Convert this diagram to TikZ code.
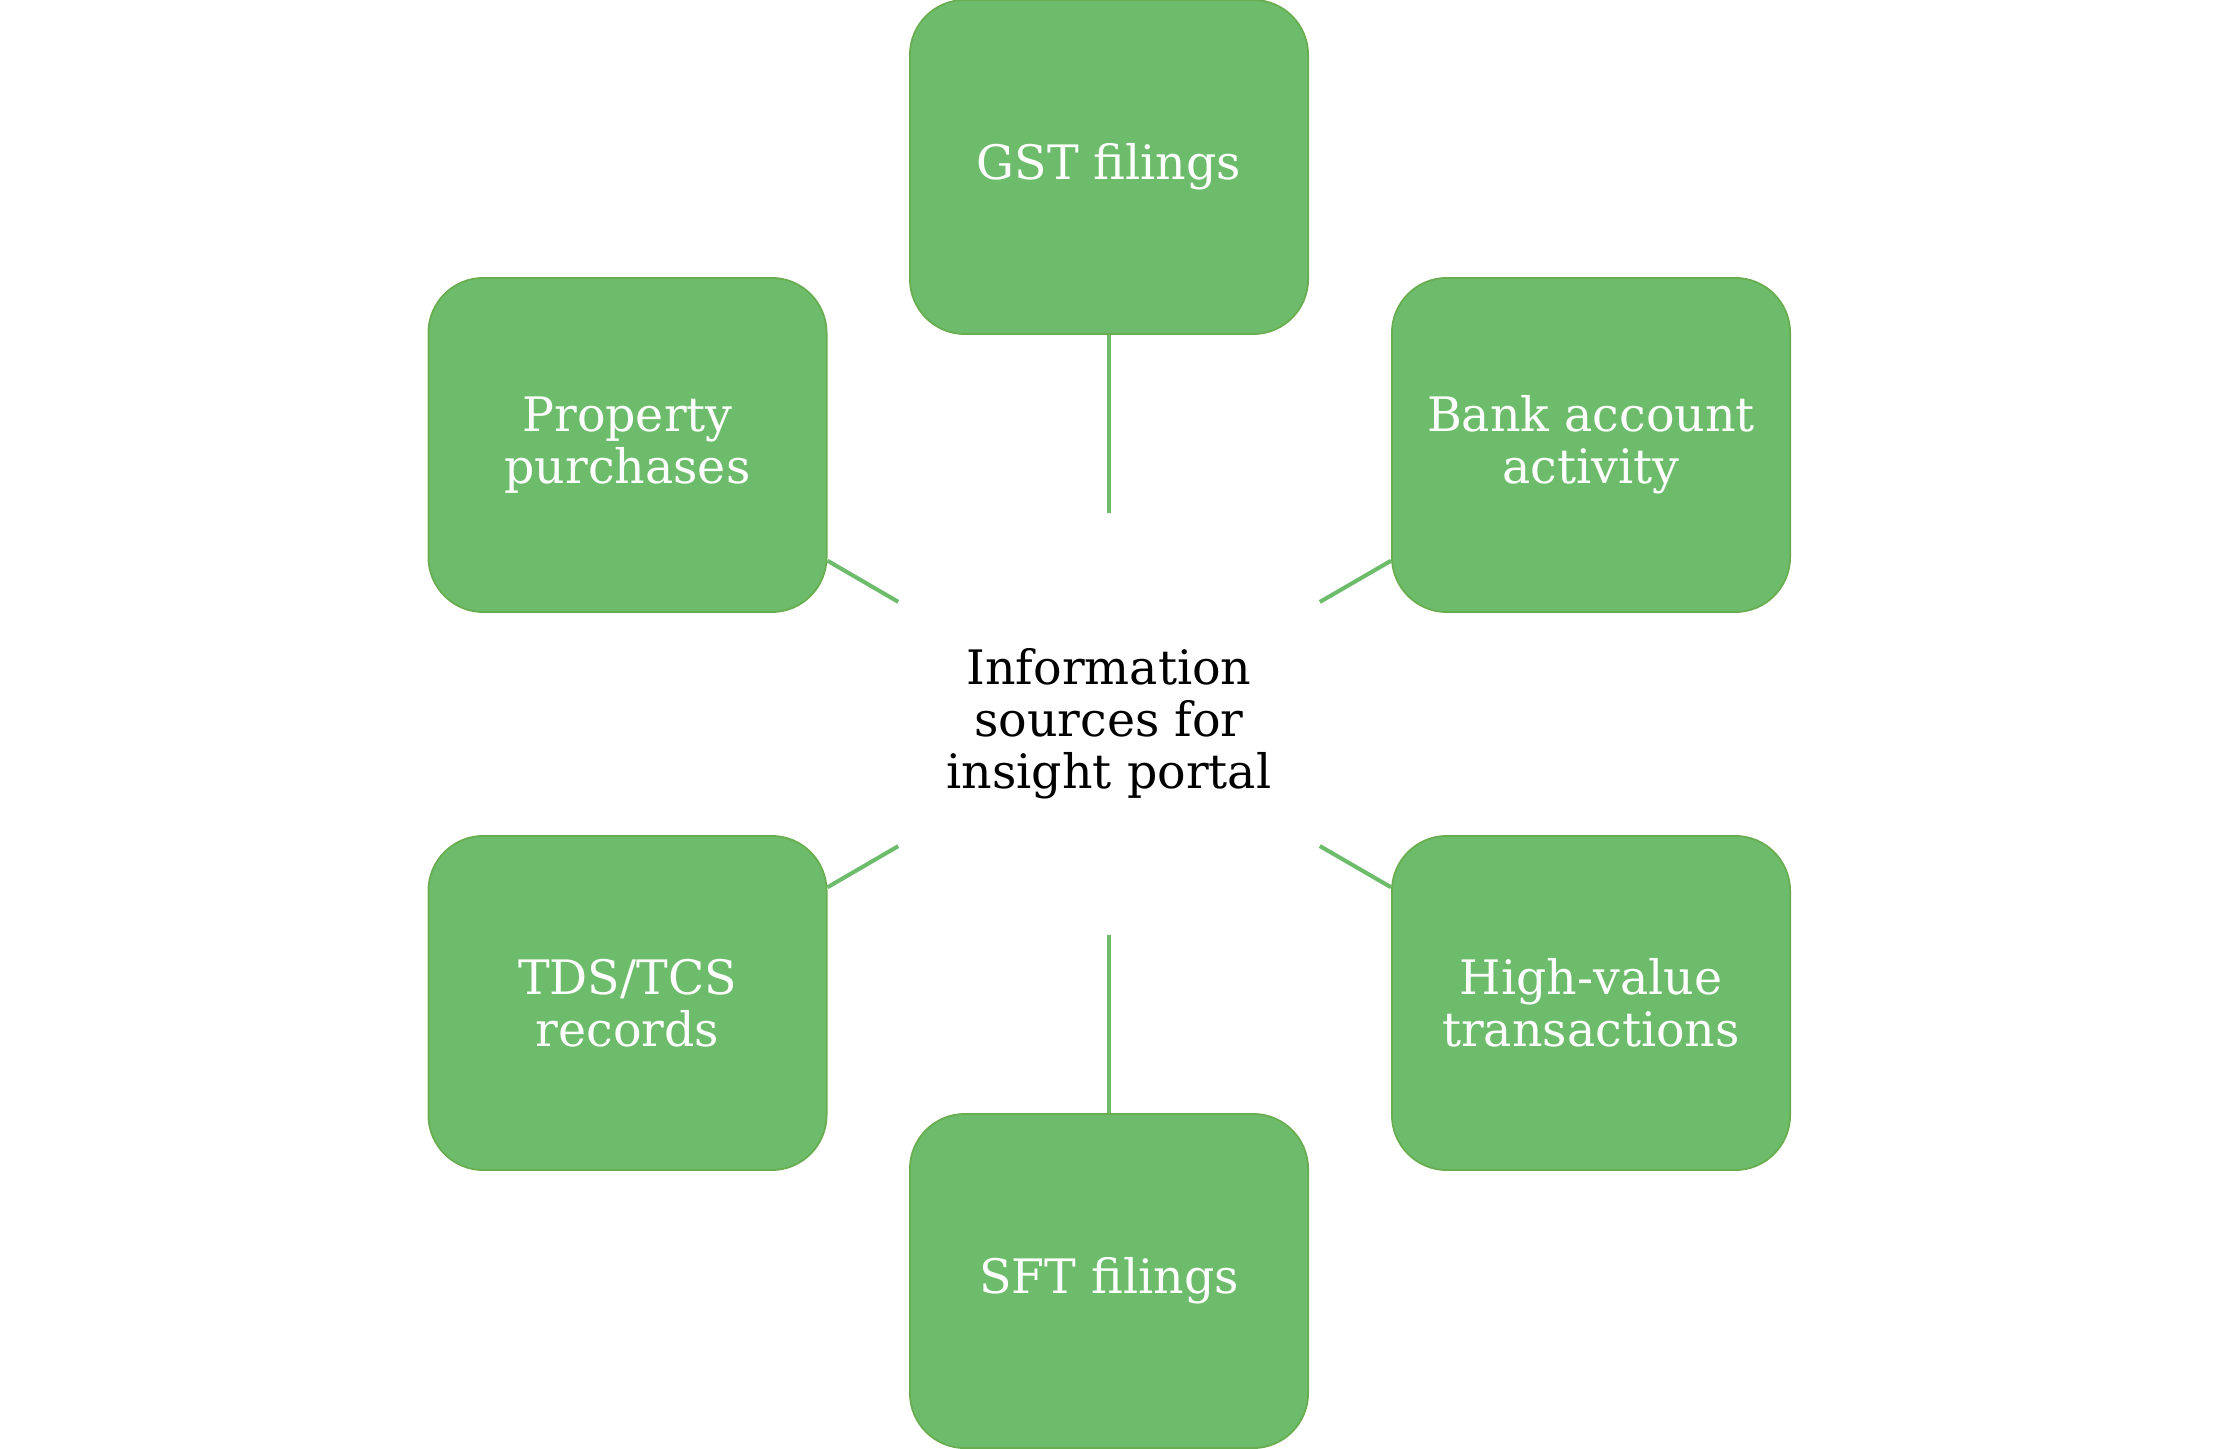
\documentclass[tikz,border=0pt]{standalone}
\usepackage{fontspec}
\setmainfont{DejaVu Serif}
\definecolor{boxfill}{RGB}{109,188,107}
\definecolor{boxline}{RGB}{104,174,80}
\definecolor{connline}{RGB}{109,188,107}
\begin{document}
\begin{tikzpicture}[x=0.01cm,y=0.01cm,
  srcbox/.style={rectangle, rounded corners=0.55cm, fill=boxfill, draw=boxline, line width=0.5pt,
    minimum width=3.98cm, minimum height=3.34cm, text=white, align=center, inner sep=0pt,
    font=\fontsize{13.5}{14.8}\selectfont},
  hub/.style={rectangle, minimum width=4.2cm, minimum height=4.2cm, inner sep=0pt, align=center,
    text=black, font=\fontsize{13.5}{14.8}\selectfont},
  conn/.style={draw=connline, line width=1.15pt}]
\useasboundingbox (0,0) rectangle (2219,1448);
\node[hub] (ctr) at (1109,724) {Information\\sources for\\insight portal};
\node[srcbox] (gst) at (1109,1281) {GST filings};
\node[srcbox] (bank) at (1591,1003) {Bank account\\activity};
\node[srcbox] (hv) at (1591,445) {High-value\\transactions};
\node[srcbox] (sft) at (1109,167) {SFT filings};
\node[srcbox] (tds) at (627.5,445) {TDS/TCS\\records};
\node[srcbox] (prop) at (627.5,1003) {Property\\purchases};
\draw[conn] (ctr) -- (gst);
\draw[conn] (ctr) -- (bank);
\draw[conn] (ctr) -- (hv);
\draw[conn] (ctr) -- (sft);
\draw[conn] (ctr) -- (tds);
\draw[conn] (ctr) -- (prop);
\end{tikzpicture}
\end{document}
